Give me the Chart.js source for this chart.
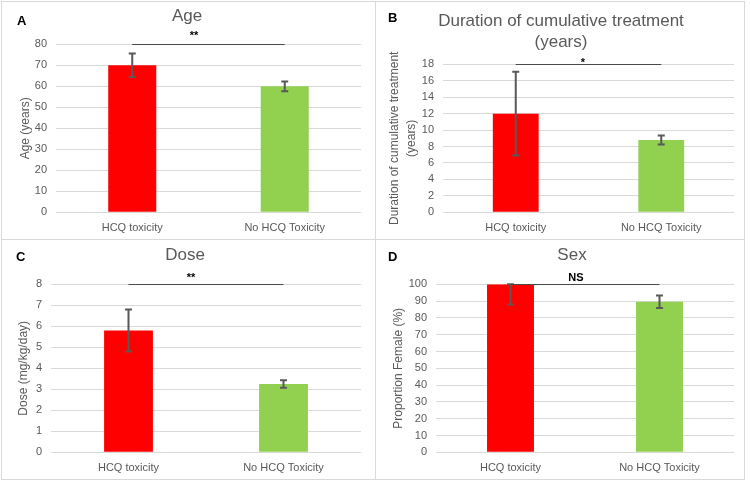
<!DOCTYPE html>
<html>
<head>
<meta charset="utf-8">
<script src="https://cdn.jsdelivr.net/npm/chart.js@4.4.1/dist/chart.umd.min.js"></script>
<style>
  body { margin: 0; background: #fff; width: 750px; height: 481px; position: relative; overflow: hidden; }
  canvas { position: absolute; }
</style>
</head>
<body>
<canvas id="chartA" width="375" height="239" style="left:1px;top:1px"></canvas>
<canvas id="chartB" width="370" height="239" style="left:375px;top:1px"></canvas>
<canvas id="chartC" width="375" height="241" style="left:1px;top:239px"></canvas>
<canvas id="chartD" width="370" height="241" style="left:375px;top:239px"></canvas>
<script>
const categories = ["HCQ toxicity", "No HCQ Toxicity"];
const barColors = ["#FF0000", "#92D050"];

const ageMeans = [70, 60];
const ageErr = [5.6, 2.3];

const durationMeans = [12, 8.8];
const durationErr = [5.1, 0.55];

const doseMeans = [5.8, 3.25];
const doseErr = [1.0, 0.18];

const femaleMeans = [100, 89.6];
const femaleErr = [12, 3.7];

const grey = "#595959";
Chart.defaults.font.family = "'Liberation Sans', Arial, sans-serif";
Chart.defaults.color = grey;

// error bars, significance line, titles, panel letter and frame
const decor = {
  id: "decor",
  afterDraw(chart, args, o) {
    const ctx = chart.ctx;
    const y = chart.scales.y;
    const bars = chart.getDatasetMeta(0).data;
    const vals = chart.data.datasets[0].data;
    ctx.save();

    ctx.strokeStyle = grey;
    ctx.lineWidth = 2;
    o.err.forEach((e, i) => {
      const x = bars[i].x;
      const yt = y.getPixelForValue(Math.min(vals[i] + e, y.max));
      const yb = y.getPixelForValue(vals[i] - e);
      ctx.beginPath();
      ctx.moveTo(x, yt); ctx.lineTo(x, yb);
      ctx.moveTo(x - 3.5, yt); ctx.lineTo(x + 3.5, yt);
      ctx.moveTo(x - 3.5, yb); ctx.lineTo(x + 3.5, yb);
      ctx.stroke();
    });

    const ys = Math.round(y.getPixelForValue(y.max)) + 0.5;
    ctx.lineWidth = 1.2;
    ctx.strokeStyle = "#4a4a4a";
    ctx.beginPath();
    ctx.moveTo(bars[0].x, ys); ctx.lineTo(bars[1].x, ys);
    ctx.stroke();

    ctx.fillStyle = "#000";
    ctx.textAlign = "center";
    ctx.textBaseline = "middle";
    ctx.font = "bold 11px 'Liberation Sans', Arial, sans-serif";
    ctx.fillText(o.sig, o.sigX, o.sigY);

    ctx.fillStyle = grey;
    ctx.font = "17px 'Liberation Sans', Arial, sans-serif";
    o.title.forEach((t, i) => ctx.fillText(t, o.titleX, o.titleY + i * 21));

    ctx.fillStyle = "#000";
    ctx.textAlign = "left";
    ctx.font = "bold 13px 'Liberation Sans', Arial, sans-serif";
    ctx.fillText(o.letter, o.letterX, o.letterY);

    ctx.strokeStyle = "#d9d9d9";
    ctx.lineWidth = 1;
    ctx.strokeRect(0.5, 0.5, chart.width - 1, chart.height - 1);
    ctx.restore();
  }
};

function makeChart(id, means, err, maxY, step, yTitle, box, deco) {
  return new Chart(document.getElementById(id), {
    type: "bar",
    data: {
      labels: categories,
      datasets: [{
        data: means,
        backgroundColor: barColors,
        categoryPercentage: 1,
        barPercentage: 0.315
      }]
    },
    options: {
      responsive: false,
      animation: false,
      layout: { padding: { top: box.top, right: box.right, left: 0, bottom: 0 } },
      plugins: {
        legend: { display: false },
        tooltip: { enabled: false },
        decor: deco
      },
      scales: {
        x: {
          grid: { display: false },
          border: { display: false },
          ticks: { font: { size: 11 }, padding: 1, color: grey, maxRotation: 0 },
          afterFit: s => { s.height = box.xh; }
        },
        y: {
          min: 0,
          max: maxY,
          grid: { color: "#d9d9d9", drawTicks: false, lineWidth: 1 },
          border: { display: false },
          ticks: { stepSize: step, font: { size: 11 }, padding: 9, color: grey },
          title: {
            display: true,
            text: yTitle,
            font: { size: 12, lineHeight: box.lh || 1.2 },
            color: grey,
            padding: { top: box.tp, bottom: 0 }
          },
          afterFit: s => { s.width = box.yw; }
        }
      }
    },
    plugins: [decor]
  });
}

makeChart("chartA", ageMeans, ageErr, 80, 10, "Age (years)",
  { top: 43.3, right: 15, yw: 55, xh: 27.7, tp: 17 },
  { err: ageErr, sig: "**", sigX: 193, sigY: 35, title: ["Age"], titleX: 186, titleY: 15, letter: "A", letterX: 16, letterY: 20 });

makeChart("chartB", durationMeans, durationErr, 18, 2, ["Duration of cumulative treatment", "(years)"],
  { top: 63.3, right: 11, yw: 68, xh: 27.7, tp: 11, lh: 1.45 },
  { err: durationErr, sig: "*", sigX: 208, sigY: 62, title: ["Duration of cumulative treatment", "(years)"], titleX: 186, titleY: 20, letter: "B", letterX: 13, letterY: 17 });

makeChart("chartC", doseMeans, doseErr, 8, 1, "Dose (mg/kg/day)",
  { top: 45.3, right: 15, yw: 50, xh: 27.7, tp: 15 },
  { err: doseErr, sig: "**", sigX: 190, sigY: 39, title: ["Dose"], titleX: 184, titleY: 16, letter: "C", letterX: 15, letterY: 18 });

makeChart("chartD", femaleMeans, femaleErr, 100, 10, "Proportion Female (%)",
  { top: 45.3, right: 11, yw: 61, xh: 27.7, tp: 16 },
  { err: femaleErr, sig: "NS", sigX: 201, sigY: 39, title: ["Sex"], titleX: 197, titleY: 16, letter: "D", letterX: 13, letterY: 18 });
</script>
</body>
</html>
